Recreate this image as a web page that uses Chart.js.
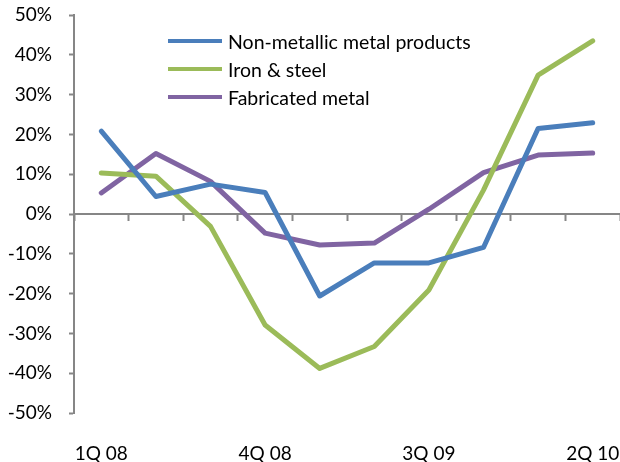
<!DOCTYPE html>
<html lang="en">
<head>
    <meta charset="UTF-8">
    <title>Metal products</title>
    <script src="https://cdn.jsdelivr.net/npm/chart.js"></script>
    <style>
        body, html {
            margin: 0;
            padding: 0;
            width: 620px;
            height: 462px;
            overflow: hidden;
            background: #fff;
        }
        #wrap {
            position: relative;
            width: 620px;
            height: 462px;
        }
        canvas {
            display: block;
        }
        #legend {
            position: absolute;
            left: 168px;
            top: 27px;
            font-family: Lato, sans-serif;
            font-size: 19.5px;
            color: #000;
        }
        .item {
            height: 28px;
            display: flex;
            align-items: center;
        }
        .swatch {
            width: 54px;
            height: 4px;
            margin-right: 6px;
        }
    </style>
</head>
<body>
    <div id="wrap">
        <canvas id="chart" width="620" height="462"></canvas>
        <div id="legend"></div>
    </div>

    <script>
        const quarters = ['1Q 08', '2Q 08', '3Q 08', '4Q 08', '1Q 09', '2Q 09', '3Q 09', '4Q 09', '1Q 10', '2Q 10'];
        const nonMetallic = [20.8, 4.4, 7.5, 5.4, -20.6, -12.3, -12.3, -8.4, 21.5, 22.9];
        const ironSteel = [10.3, 9.5, -3.1, -27.9, -38.8, -33.3, -19.1, 6.0, 34.9, 43.5];
        const fabricated = [5.3, 15.2, 8.2, -4.8, -7.8, -7.3, 1.2, 10.4, 14.8, 15.3];
        const yTicks = [-50, -40, -30, -20, -10, 0, 10, 20, 30, 40, 50];
        const shownLabels = ['1Q 08', '4Q 08', '3Q 09', '2Q 10'];

        const axisGray = '#868686';
        const font = { family: 'Lato, sans-serif', size: 19 };

        const series = [
            { label: 'Non-metallic metal products', data: nonMetallic, color: '#4a7ebb' },
            { label: 'Iron & steel', data: ironSteel, color: '#9bbb59' },
            { label: 'Fabricated metal', data: fabricated, color: '#8064a2' }
        ];

        // no automatic label overflow padding, sizes are set by hand
        function noPadding(scale) {
            scale.paddingLeft = 0;
            scale.paddingRight = 0;
            scale.paddingTop = 0;
            scale.paddingBottom = 0;
        }

        const chart = new Chart(document.getElementById('chart'), {
            type: 'line',
            data: {
                labels: quarters,
                datasets: series.map(s => ({
                    label: s.label,
                    data: s.data,
                    xAxisID: 'x',
                    borderColor: s.color,
                    backgroundColor: s.color,
                    borderWidth: 5,
                    borderCapStyle: 'round',
                    borderJoinStyle: 'round',
                    pointRadius: 0,
                    tension: 0,
                    fill: false
                }))
            },
            options: {
                responsive: false,
                animation: false,
                layout: { padding: { top: 15, right: 0, bottom: 0, left: 0 } },
                plugins: {
                    legend: { display: false },
                    tooltip: { enabled: false }
                },
                scales: {
                    x: {
                        type: 'category',
                        position: { y: 0 },
                        offset: true,
                        afterFit: noPadding,
                        grid: {
                            offset: true,
                            drawOnChartArea: false,
                            drawTicks: true,
                            tickLength: 6,
                            tickWidth: 2,
                            color: axisGray
                        },
                        border: { display: true, color: axisGray, width: 2 },
                        ticks: { display: false }
                    },
                    x2: {
                        type: 'category',
                        position: 'bottom',
                        offset: true,
                        afterFit: scale => {
                            noPadding(scale);
                            scale.height = 49;
                        },
                        grid: { display: false, drawTicks: false },
                        border: { display: false },
                        ticks: {
                            autoSkip: false,
                            maxRotation: 0,
                            padding: 29,
                            color: '#000',
                            font: font,
                            callback: function (v, i) {
                                const q = quarters[i];
                                return shownLabels.includes(q) ? q : '';
                            }
                        }
                    },
                    y: {
                        min: yTicks[0],
                        max: yTicks[yTicks.length - 1],
                        afterBuildTicks: scale => {
                            scale.ticks = yTicks.map(v => ({ value: v }));
                        },
                        afterFit: scale => {
                            noPadding(scale);
                            scale.width = 74;
                        },
                        grid: {
                            drawOnChartArea: false,
                            drawTicks: true,
                            tickLength: 5,
                            tickWidth: 2,
                            color: axisGray
                        },
                        border: { display: true, color: axisGray, width: 2 },
                        ticks: {
                            padding: 17,
                            color: '#000',
                            font: font,
                            callback: v => v + '%'
                        }
                    }
                }
            }
        });

        // html legend built from the datasets
        const legend = document.getElementById('legend');
        chart.data.datasets.forEach(ds => {
            const row = document.createElement('div');
            row.className = 'item';
            const sw = document.createElement('span');
            sw.className = 'swatch';
            sw.style.background = ds.borderColor;
            const txt = document.createElement('span');
            txt.textContent = ds.label;
            row.appendChild(sw);
            row.appendChild(txt);
            legend.appendChild(row);
        });
    </script>
</body>
</html>
